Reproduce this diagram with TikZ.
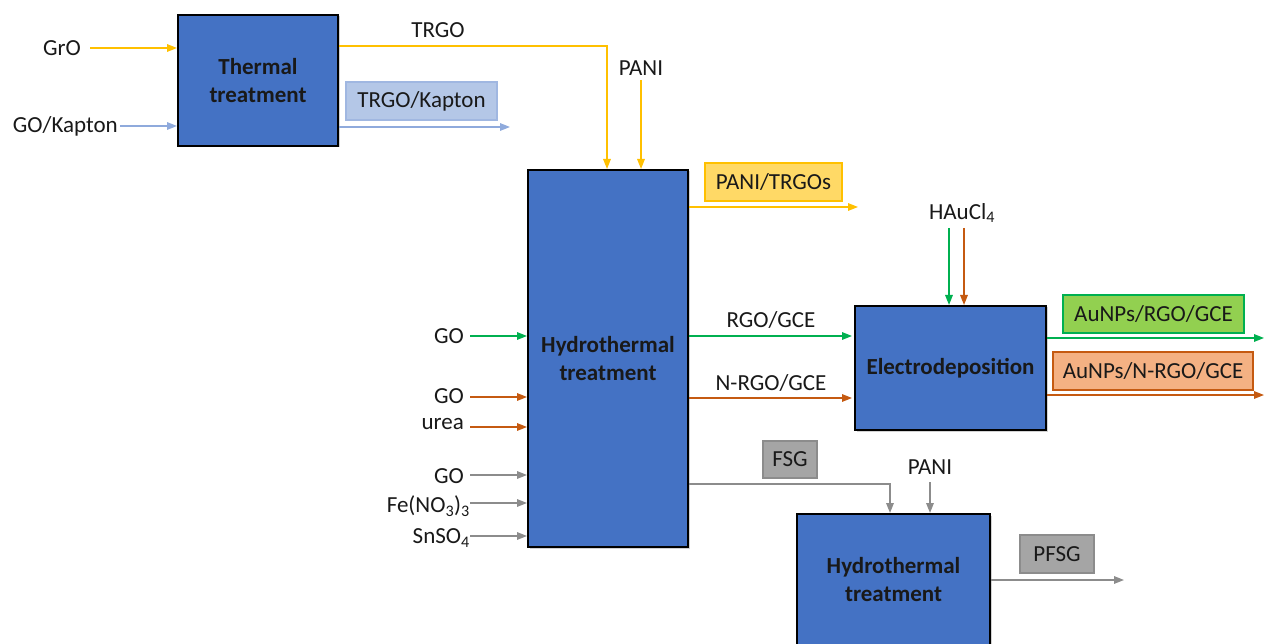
\documentclass[tikz,border=0pt]{standalone}
\usepackage{fontspec}
\setmainfont{Carlito}
\usetikzlibrary{arrows.meta,shadows}
\definecolor{procblue}{HTML}{4472C4}
\definecolor{yel}{HTML}{FFC000}
\definecolor{yelfill}{HTML}{FFD966}
\definecolor{lblue}{HTML}{8FAADC}
\definecolor{lbluefill}{HTML}{B4C7E7}
\definecolor{grn}{HTML}{00B050}
\definecolor{grnfill}{HTML}{92D050}
\definecolor{org}{HTML}{C55A11}
\definecolor{orgfill}{HTML}{F4B183}
\definecolor{gry}{HTML}{8C8C8C}
\definecolor{gryfill}{HTML}{A5A5A5}
\begin{document}
\begin{tikzpicture}[x=1pt,y=-1pt,
  every node/.style={font=\fontsize{23}{28}\selectfont, text=black!90},
  proc/.style={draw=black, line width=2pt, fill=procblue, align=center, inner sep=0pt,
    font=\fontsize{23}{28}\selectfont\bfseries,
    drop shadow={shadow xshift=1.5pt, shadow yshift=-1.5pt, opacity=0.35}},
  tag/.style={draw, line width=1.5pt, inner sep=0pt, minimum height=38pt},
  lbl/.style={inner sep=0pt},
  arr/.style={line width=1.6pt, -{Triangle[length=10pt,width=7.5pt]}},
  ln/.style={line width=1.6pt}]
\clip (0,0) rectangle (1264,644);
\fill[white] (0,0) rectangle (1264,644);

% process boxes
\node[proc, minimum width=160pt, minimum height=131pt] (thermal) at (258,80.5) {Thermal\\treatment};
\node[proc, minimum width=160pt, minimum height=377pt] (hydro1) at (608,358.5) {Hydrothermal\\treatment};
\node[proc, minimum width=191pt, minimum height=124pt] (electro) at (950.5,368) {Electrodeposition};
\node[proc, minimum width=193pt, minimum height=132pt] (hydro2) at (893.5,580) {Hydrothermal\\treatment};

% thermal inputs
\node[lbl, anchor=east] (gro) at (81,48) {GrO};
\node[lbl, anchor=east] (gokap) at (118,126) {GO/Kapton};
\draw[arr, yel] ([xshift=9pt]gro.east) -- (gro.east -| thermal.west);
\draw[arr, lblue] ([xshift=2pt]gokap.east) -- (gokap.east -| thermal.west);

% thermal outputs
\node[lbl] (trgo) at (438,30) {TRGO};
\draw[arr, yel] (thermal.east |- 0,46) -| ([xshift=-1pt]hydro1.north);
\node[tag, draw=lblue!85!white, fill=lbluefill, minimum width=151pt] (trgokap) at (421.5,101) {TRGO/Kapton};
\coordinate (trgokapend) at (510,127);
\draw[arr, lblue] (thermal.east |- trgokapend) -- (trgokapend);

% PANI into hydro1
\node[lbl] (pani1) at (641,68) {PANI};
\draw[arr, yel] (641,80) -- (641,0 |- hydro1.north);

% PANI/TRGOs output
\node[tag, draw=yel, fill=yelfill, minimum width=137pt] (panitrgo) at (773.5,182) {PANI/TRGOs};
\coordinate (panitrgoend) at (858,207);
\draw[arr, yel] (hydro1.east |- panitrgoend) -- (panitrgoend);

% hydro1 inputs
\node[lbl, anchor=east] (go1) at (464,336) {GO};
\node[lbl, anchor=east] (go2) at (464,396) {GO};
\node[lbl, anchor=east] (urea) at (464,424) {urea};
\node[lbl, anchor=east] (go3) at (464,476) {GO};
\node[lbl, anchor=east] (fe) at (470,506) {Fe(NO\textsubscript{3})\textsubscript{3}};
\node[lbl, anchor=east] (sn) at (470,538) {SnSO\textsubscript{4}};
\draw[arr, grn] (470,336) -- (470,336 -| hydro1.west);
\draw[arr, org] (470,397) -- (470,397 -| hydro1.west);
\draw[arr, org] (470,427) -- (470,427 -| hydro1.west);
\draw[arr, gry] (470,475) -- (470,475 -| hydro1.west);
\draw[arr, gry] (470,503) -- (470,503 -| hydro1.west);
\draw[arr, gry] (470,536) -- (470,536 -| hydro1.west);

% hydro1 -> electro
\node[lbl] (rgo) at (771,320) {RGO/GCE};
\node[lbl] (nrgo) at (771,383) {N-RGO/GCE};
\draw[arr, grn] (hydro1.east |- 0,336) -- ([xshift=-2pt]electro.west |- 0,336);
\draw[arr, org] (hydro1.east |- 0,398) -- ([xshift=-2pt]electro.west |- 0,398);

% HAuCl4
\node[lbl] (hau) at (962,213) {HAuCl\textsubscript{4}};
\draw[arr, grn] (949,228) -- (949,0 |- electro.north);
\draw[arr, org] (964,228) -- (964,0 |- electro.north);

% electro outputs
\node[tag, draw=grn, fill=grnfill, minimum width=181pt] (au1) at (1153.5,314) {AuNPs/RGO/GCE};
\node[tag, draw=org, fill=orgfill, minimum width=200pt] (au2) at (1153,371) {AuNPs/N-RGO/GCE};
\coordinate (au1end) at (1264,338);
\coordinate (au2end) at (1264,395);
\draw[arr, grn] (electro.east |- au1end) -- (au1end);
\draw[arr, org] (electro.east |- au2end) -- (au2end);

% FSG
\node[tag, draw=gry, fill=gryfill, minimum width=54pt, minimum height=37pt] (fsg) at (790,459.5) {FSG};
\draw[arr, gry] (hydro1.east |- 0,484) -| ([xshift=-3.5pt]hydro2.north);
\node[lbl] (pani2) at (930,467) {PANI};
\draw[arr, gry] (930,482) -- (930,0 |- hydro2.north);

% PFSG
\node[tag, draw=gry, fill=gryfill, minimum width=74pt] (pfsg) at (1057,554) {PFSG};
\coordinate (pfsgend) at (1124,580);
\draw[arr, gry] (hydro2.east |- pfsgend) -- (pfsgend);
\end{tikzpicture}
\end{document}
